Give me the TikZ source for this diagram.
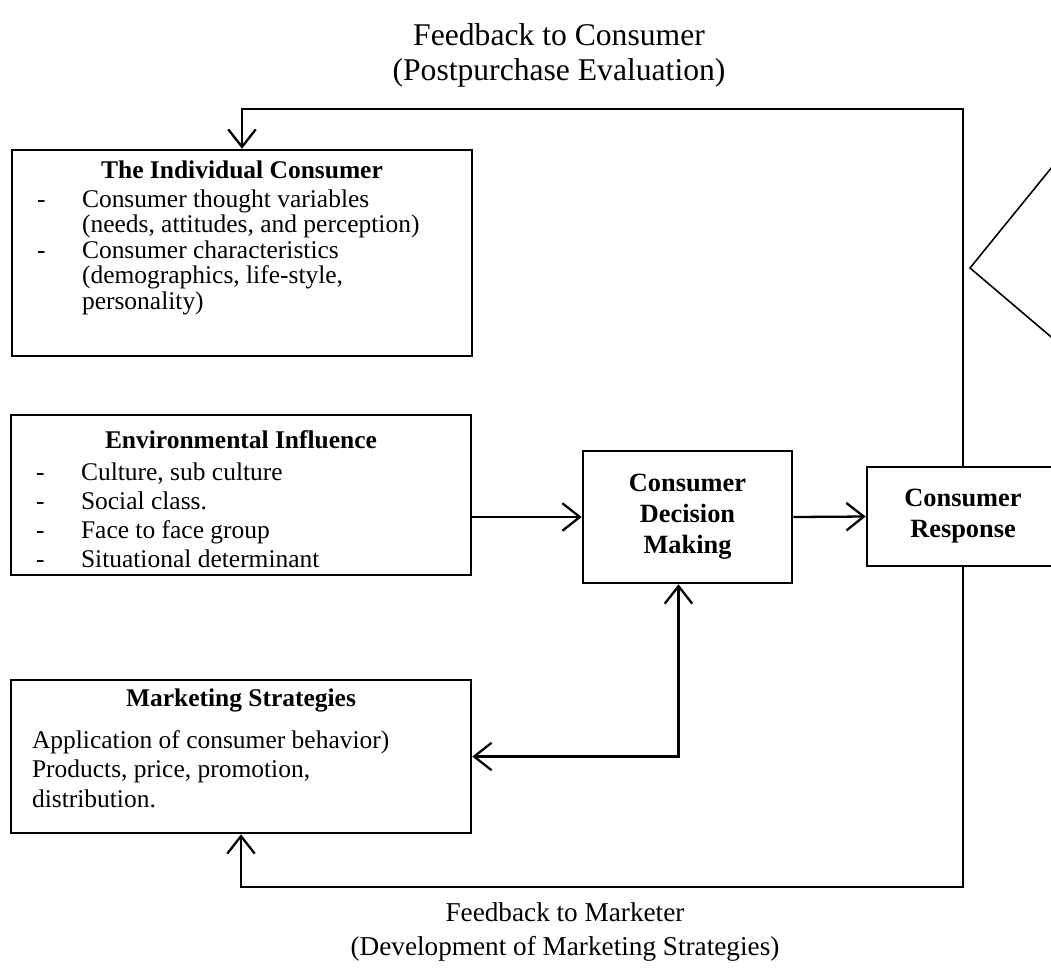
\documentclass[tikz,border=0pt]{standalone}
\usepackage{fontspec}
\setmainfont{Liberation Serif}
\usetikzlibrary{arrows.meta}
\usetikzlibrary{calc}

\newcommand{\itm}{\makebox[0.9cm][l]{-}}
\newcommand{\cont}{\hspace*{0.9cm}}
\newcommand{\boxhead}[1]{\makebox[\linewidth]{\bfseries #1}}
% height of box, space above the heading, text
\newcommand{\boxbody}[3]{\begin{minipage}[t][#1][t]{8.2cm}\vspace*{#2}#3\end{minipage}}

\begin{document}
\begin{tikzpicture}[x=0.02cm, y=-0.02cm, >={Straight Barb[length=3.5mm,width=5.5mm]},
    box/.style={draw, line width=1.5pt, inner xsep=0.5cm, inner ysep=0pt},
    midbox/.style={draw, line width=1.5pt, align=center,
      font=\fontsize{15}{17.6}\selectfont\bfseries},
    link/.style={line width=1.3pt},
    lbl/.style={align=center}]

  \useasboundingbox (0,0) rectangle (1051,968);

  % boxes on the left
  \node[box, font=\fontsize{14.5}{14.5}\selectfont] (ind) at (242,253) {%
    \boxbody{4.12cm}{0.21cm}{%
    \boxhead{The Individual Consumer}\\[2pt]
    \itm Consumer thought variables\\
    \cont (needs, attitudes, and perception)\\
    \itm Consumer characteristics\\
    \cont (demographics, life-style,\\
    \cont personality)}};

  \node[box, font=\fontsize{14.5}{16.5}\selectfont] (env) at (241,495) {%
    \boxbody{3.2cm}{0.31cm}{%
    \boxhead{Environmental Influence}\\[1.5pt]
    \itm Culture, sub culture\\
    \itm Social class.\\
    \itm Face to face group\\
    \itm Situational determinant}};

  \node[box, font=\fontsize{14.5}{17}\selectfont] (mkt) at (241,756.5) {%
    \boxbody{3.06cm}{0.17cm}{%
    \boxhead{Marketing Strategies}\\[6.8pt]
    \hspace*{-0.08cm}Application of consumer behavior)\\
    \hspace*{-0.08cm}Products, price, promotion,\\
    \hspace*{-0.08cm}distribution.}};

  % decision and response
  \node[midbox, minimum width=4.18cm, minimum height=2.64cm] (cdm) at (687.5,517)
    {Consumer\\Decision\\Making};
  \node[midbox, minimum width=3.84cm, minimum height=1.98cm] (cr) at (963,516.5)
    {Consumer\\Response};

  % part of the diamond at the edge
  \draw[line width=0.9pt] (1130,71) -- (970,268) -- (1130,404);

  \coordinate (fbtop) at (241,109);
  \coordinate (fbbot) at (241,887);

  \draw[link,->] (env.east |- cdm.west) -- (cdm.west);
  \draw[link,->] (cdm.east) -- (cr.west);
  \draw[link,<->] (mkt.east) -| ($(cdm.south)+(-9,0)$);
  \draw[link,->] (cr.north) |- (fbtop) -| (ind.north);
  \draw[link,->] (cr.south) |- (fbbot) -| (mkt.south);

  \node[lbl, font=\fontsize{18}{20}\selectfont] (fbc) at (559,55)
    {Feedback to Consumer\\(Postpurchase Evaluation)};
  \node[lbl, font=\fontsize{15.5}{19}\selectfont] (fbm) at (565,932)
    {Feedback to Marketer\\(Development of Marketing Strategies)};
\end{tikzpicture}
\end{document}
